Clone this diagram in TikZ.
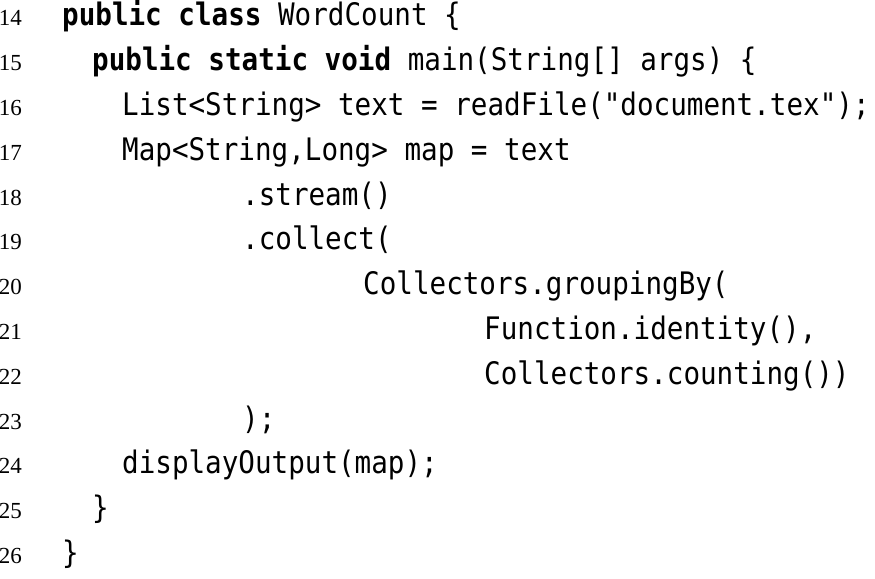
\documentclass[tikz,border=0pt]{standalone}
\usepackage{fontspec}
\setmainfont{Liberation Serif}
\setmonofont[FakeStretch=0.89]{DejaVu Sans Mono}
\usetikzlibrary{positioning}

\begin{document}
\begin{tikzpicture}[x=1pt,y=-1pt,
  lineno/.style={anchor=base east,inner sep=0pt,font=\fontsize{23}{23}\selectfont},
  src/.style={anchor=base west,inner sep=0pt,font=\fontsize{31}{31}\selectfont\ttfamily}]
\useasboundingbox (0,0) rectangle (875,578);
% line numbers
\foreach \n in {14,...,26}
  \node[lineno] (n\n) at (22,{25.8+44.8*(\n-14)}) {\n};
% source lines
\node[src] (c14) at (62,0 |- n14.base) {\textbf{public class} WordCount \{};
\node[src] (c15) at (92,0 |- n15.base) {\textbf{public static void} main(String[] args) \{};
\node[src] (c16) at (122,0 |- n16.base) {List<String> text = readFile("document.tex");};
\node[src] (c17) at (122,0 |- n17.base) {Map<String,Long> map = text};
\node[src] (c18) at (242,0 |- n18.base) {.stream()};
\node[src] (c19) at (242,0 |- n19.base) {.collect(};
\node[src] (c20) at (363,0 |- n20.base) {Collectors.groupingBy(};
\node[src] (c21) at (484,0 |- n21.base) {Function.identity(),};
\node[src] (c22) at (484,0 |- n22.base) {Collectors.counting())};
\node[src] (c23) at (242,0 |- n23.base) {);};
\node[src] (c24) at (122,0 |- n24.base) {displayOutput(map);};
\node[src] (c25) at (92,0 |- n25.base) {\}};
\node[src] (c26) at (62,0 |- n26.base) {\}};
\end{tikzpicture}
\end{document}
